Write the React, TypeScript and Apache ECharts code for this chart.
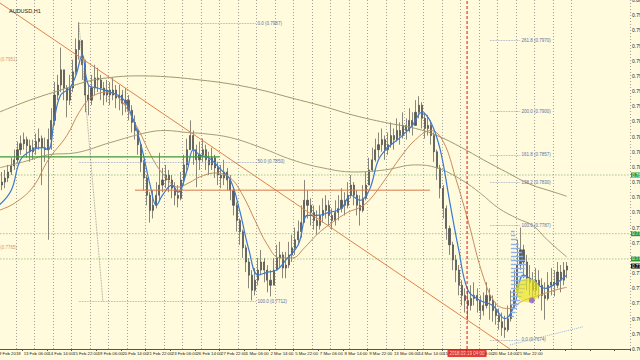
import React, { useEffect, useRef } from "react";
import * as echarts from "echarts";

// ---------- data (prices, AUDUSD H1 shown as 4-hour slots) ----------
const TIME_LABELS = [
  "9 Feb 2018", "13 Feb 06:00", "14 Feb 14:00", "15 Feb 22:00", "19 Feb 06:00", "20 Feb 14:00",
  "21 Feb 22:00", "23 Feb 06:00", "26 Feb 14:00", "27 Feb 22:00", "1 Mar 06:00", "2 Mar 14:00",
  "5 Mar 22:00", "7 Mar 06:00", "8 Mar 14:00", "9 Mar 22:00", "13 Mar 06:00", "14 Mar 14:00",
  "15 Mar 22:00", "19 Mar 06:00", "20 Mar 14:00", "21 Mar 22:00", "23 Mar 06:00",
];

const FIRST_OPEN = 0.7822;
const CLOSE = [
  0.7827, 0.7830, 0.7834, 0.7840, 0.7846, 0.7852, 0.7862, 0.7868, 0.7872, 0.7866,
  0.7860, 0.7864, 0.7870, 0.7873, 0.7864, 0.7862, 0.7872, 0.7891, 0.7916, 0.7926,
  0.7941, 0.7923, 0.7911, 0.7923, 0.7939, 0.7961, 0.7970, 0.7946, 0.7916, 0.7911,
  0.7923, 0.7933, 0.7931, 0.7923, 0.7916, 0.7921, 0.7916, 0.7921, 0.7913, 0.7916,
  0.7908, 0.7911, 0.7901, 0.7889, 0.7881, 0.7867, 0.7850, 0.7834, 0.7817, 0.7802,
  0.7807, 0.7817, 0.7827, 0.7832, 0.7837, 0.7832, 0.7824, 0.7817, 0.7814, 0.7832,
  0.7847, 0.7862, 0.7876, 0.7862, 0.7852, 0.7857, 0.7862, 0.7852, 0.7847, 0.7854,
  0.7844, 0.7837, 0.7834, 0.7840, 0.7832, 0.7822, 0.7807, 0.7792, 0.7781, 0.7765,
  0.7751, 0.7738, 0.7723, 0.7733, 0.7743, 0.7751, 0.7743, 0.7733, 0.7728, 0.7743,
  0.7755, 0.7758, 0.7745, 0.7748, 0.7758, 0.7765, 0.7773, 0.7781, 0.7790, 0.7812,
  0.7807, 0.7800, 0.7792, 0.7787, 0.7797, 0.7802, 0.7807, 0.7797, 0.7792, 0.7800,
  0.7804, 0.7812, 0.7807, 0.7817, 0.7827, 0.7817, 0.7807, 0.7802, 0.7814, 0.7827,
  0.7842, 0.7852, 0.7862, 0.7867, 0.7872, 0.7862, 0.7867, 0.7876, 0.7872, 0.7881,
  0.7876, 0.7886, 0.7881, 0.7891, 0.7886, 0.7899, 0.7906, 0.7893, 0.7883, 0.7886,
  0.7876, 0.7860, 0.7844, 0.7824, 0.7804, 0.7784, 0.7768, 0.7753, 0.7743, 0.7728,
  0.7718, 0.7713, 0.7708, 0.7715, 0.7718, 0.7713, 0.7703, 0.7708, 0.7718, 0.7713,
  0.7703, 0.7698, 0.7692, 0.7686, 0.7684, 0.7695, 0.7708, 0.7723, 0.7748, 0.7763,
  0.7751, 0.7735, 0.7731, 0.7723, 0.7733, 0.7728, 0.7718, 0.7715, 0.7728, 0.7731,
  0.7728, 0.7741, 0.7733, 0.7743, 0.7747,
];
const HIGH = [
  0.7837, 0.7840, 0.7842, 0.7847, 0.7854, 0.7862, 0.7870, 0.7876, 0.7879, 0.7875,
  0.7872, 0.7872, 0.7878, 0.7883, 0.7876, 0.7874, 0.7883, 0.7903, 0.7929, 0.7936,
  0.7963, 0.7941, 0.7926, 0.7936, 0.7951, 0.7972, 0.7988, 0.7968, 0.7951, 0.7926,
  0.7936, 0.7946, 0.7943, 0.7936, 0.7929, 0.7931, 0.7929, 0.7933, 0.7926, 0.7926,
  0.7921, 0.7923, 0.7916, 0.7906, 0.7896, 0.7883, 0.7867, 0.7852, 0.7837, 0.7820,
  0.7822, 0.7830, 0.7859, 0.7844, 0.7847, 0.7842, 0.7837, 0.7830, 0.7827, 0.7840,
  0.7857, 0.7873, 0.7891, 0.7881, 0.7867, 0.7870, 0.7873, 0.7867, 0.7860, 0.7864,
  0.7857, 0.7850, 0.7847, 0.7852, 0.7844, 0.7837, 0.7824, 0.7810, 0.7794, 0.7783,
  0.7768, 0.7755, 0.7743, 0.7745, 0.7755, 0.7763, 0.7755, 0.7748, 0.7743, 0.7755,
  0.7768, 0.7771, 0.7761, 0.7761, 0.7771, 0.7778, 0.7785, 0.7792, 0.7807, 0.7832,
  0.7822, 0.7814, 0.7807, 0.7802, 0.7807, 0.7814, 0.7817, 0.7812, 0.7804, 0.7812,
  0.7817, 0.7824, 0.7820, 0.7830, 0.7837, 0.7830, 0.7822, 0.7817, 0.7827, 0.7840,
  0.7854, 0.7864, 0.7873, 0.7879, 0.7883, 0.7876, 0.7879, 0.7889, 0.7883, 0.7893,
  0.7889, 0.7899, 0.7893, 0.7903, 0.7899, 0.7911, 0.7915, 0.7909, 0.7899, 0.7896,
  0.7891, 0.7879, 0.7862, 0.7847, 0.7827, 0.7807, 0.7787, 0.7771, 0.7758, 0.7748,
  0.7733, 0.7725, 0.7723, 0.7728, 0.7731, 0.7725, 0.7718, 0.7721, 0.7731, 0.7725,
  0.7718, 0.7711, 0.7705, 0.7701, 0.7698, 0.7708, 0.7723, 0.7743, 0.7773, 0.7785,
  0.7768, 0.7758, 0.7748, 0.7741, 0.7745, 0.7743, 0.7735, 0.7731, 0.7741, 0.7745,
  0.7743, 0.7751, 0.7748, 0.7751, 0.7751,
];
const LOW = [
  0.7820, 0.7822, 0.7824, 0.7830, 0.7837, 0.7842, 0.7849, 0.7857, 0.7862, 0.7854,
  0.7850, 0.7852, 0.7857, 0.7862, 0.7827, 0.7850, 0.7773, 0.7862, 0.7886, 0.7911,
  0.7919, 0.7911, 0.7894, 0.7906, 0.7919, 0.7936, 0.7951, 0.7931, 0.7899, 0.7896,
  0.7906, 0.7916, 0.7919, 0.7911, 0.7906, 0.7909, 0.7906, 0.7911, 0.7903, 0.7901,
  0.7896, 0.7899, 0.7891, 0.7879, 0.7872, 0.7857, 0.7840, 0.7822, 0.7807, 0.7790,
  0.7794, 0.7804, 0.7812, 0.7820, 0.7824, 0.7820, 0.7814, 0.7807, 0.7805, 0.7812,
  0.7827, 0.7842, 0.7862, 0.7847, 0.7825, 0.7842, 0.7850, 0.7842, 0.7837, 0.7842,
  0.7834, 0.7827, 0.7824, 0.7827, 0.7822, 0.7812, 0.7797, 0.7781, 0.7768, 0.7755,
  0.7741, 0.7725, 0.7713, 0.7718, 0.7728, 0.7738, 0.7731, 0.7721, 0.7717, 0.7728,
  0.7743, 0.7745, 0.7735, 0.7735, 0.7745, 0.7751, 0.7758, 0.7768, 0.7775, 0.7792,
  0.7794, 0.7787, 0.7783, 0.7778, 0.7783, 0.7790, 0.7794, 0.7787, 0.7783, 0.7787,
  0.7792, 0.7800, 0.7797, 0.7804, 0.7814, 0.7807, 0.7797, 0.7787, 0.7800, 0.7812,
  0.7827, 0.7840, 0.7850, 0.7854, 0.7860, 0.7852, 0.7857, 0.7864, 0.7862, 0.7870,
  0.7867, 0.7873, 0.7872, 0.7879, 0.7876, 0.7886, 0.7893, 0.7883, 0.7873, 0.7876,
  0.7867, 0.7850, 0.7832, 0.7814, 0.7794, 0.7773, 0.7758, 0.7743, 0.7731, 0.7718,
  0.7708, 0.7701, 0.7694, 0.7703, 0.7708, 0.7701, 0.7694, 0.7698, 0.7705, 0.7694,
  0.7692, 0.7689, 0.7684, 0.7678, 0.7676, 0.7682, 0.7692, 0.7705, 0.7723, 0.7743,
  0.7735, 0.7723, 0.7718, 0.7711, 0.7718, 0.7715, 0.7703, 0.7694, 0.7713, 0.7718,
  0.7717, 0.7725, 0.7721, 0.7728, 0.7735,
];

// moving averages (slot index -> price), read at key points
const BLUE_IDX = [0, 4, 7, 11, 14, 16, 18, 20, 23, 25, 27, 29, 32, 36, 40, 43, 46, 49, 51, 53, 56, 58, 61, 63, 65, 68, 72, 75, 78, 81, 84, 87, 90, 93, 97, 100, 103, 107, 111, 114, 117, 120, 123, 126, 130, 134, 137, 140, 143, 146, 149, 152, 156, 160, 164, 167, 170, 173, 177, 181, 184];
const BLUE_VAL = [0.7807, 0.7822, 0.7852, 0.7862, 0.7864, 0.7862, 0.7893, 0.7916, 0.7923, 0.7936, 0.7956, 0.7926, 0.7923, 0.7919, 0.7913, 0.7896, 0.7867, 0.7827, 0.7807, 0.7817, 0.7827, 0.7820, 0.7842, 0.7862, 0.7857, 0.7854, 0.7842, 0.7832, 0.7802, 0.7763, 0.7738, 0.7741, 0.7743, 0.7753, 0.7768, 0.7797, 0.7797, 0.7800, 0.7804, 0.7817, 0.7812, 0.7822, 0.7852, 0.7864, 0.7874, 0.7886, 0.7899, 0.7889, 0.7862, 0.7812, 0.7763, 0.7723, 0.7713, 0.7708, 0.7695, 0.7708, 0.7738, 0.7733, 0.7725, 0.7731, 0.7738];

const BROWN_IDX = [0, 5, 11, 16, 22, 26, 30, 35, 39, 45, 50, 54, 58, 62, 65, 70, 75, 79, 83, 87, 91, 95, 99, 103, 108, 113, 117, 120, 125, 130, 135, 140, 144, 148, 152, 157, 161, 165, 170, 175, 180, 184];
const BROWN_VAL = [0.7802, 0.7809, 0.7825, 0.7852, 0.7876, 0.7899, 0.7914, 0.7919, 0.7913, 0.7883, 0.7852, 0.7835, 0.7825, 0.7830, 0.7835, 0.7839, 0.7834, 0.7817, 0.7792, 0.7768, 0.7755, 0.7755, 0.7765, 0.7778, 0.7790, 0.7800, 0.7805, 0.7812, 0.7832, 0.7854, 0.7872, 0.7881, 0.7870, 0.7834, 0.7792, 0.7736, 0.7710, 0.7705, 0.7713, 0.7718, 0.7723, 0.7726];

const SLOW_A_IDX = [0, 10, 20, 28, 35, 45, 55, 65, 75, 85, 95, 105, 115, 125, 135, 142, 150, 157, 165, 172, 180, 184];
const SLOW_A_VAL = [0.7899, 0.7911, 0.7921, 0.7929, 0.7933, 0.7935, 0.7934, 0.7931, 0.7927, 0.7921, 0.7913, 0.7905, 0.7896, 0.7889, 0.7883, 0.7876, 0.7864, 0.7852, 0.7839, 0.7828, 0.7820, 0.7816];

const SLOW_B_IDX = [0, 8, 16, 25, 36, 48, 54, 61, 66, 75, 85, 95, 105, 115, 125, 135, 142, 150, 156, 162, 168, 173, 178, 184];
const SLOW_B_VAL = [0.7844, 0.7850, 0.7857, 0.7859, 0.7869, 0.7879, 0.7881, 0.7879, 0.7878, 0.7874, 0.7864, 0.7852, 0.7844, 0.7840, 0.7842, 0.7847, 0.7844, 0.7832, 0.7819, 0.7804, 0.7794, 0.7787, 0.7772, 0.7756];

// drawn objects (slot position, price)
const TREND_X = [0.84, 166.1];
const TREND_Y = [0.8007, 0.7665];
const HLINE_X = [44.6, 140.2];
const HLINE_PRICE = 0.7822;
const GREEN_X = [0, 72];
const GREEN_PRICE = 0.7855;
const GREEN_DOTTED = [0.7837, 0.7779, 0.7754];
const LAST_PRICE = 0.7747;

const FIB1_LEVELS = ["0.0", "50.0", "100.0"];
const FIB1_PRICES = [0.7987, 0.785, 0.7712];
const FIB1_X = [26.4, 84];
const FIB1_DIAG_X = [26.4, 34.2];
const FIB1_DIAG_Y = [0.7987, 0.7712];

const FIB2_LEVELS = ["261.8", "200.0", "161.8", "138.2", "100.0", "0.0"];
const FIB2_PRICES = [0.797, 0.79, 0.7857, 0.783, 0.7787, 0.7674];
const FIB2_X = [159.6, 169.5];

const BLUE_TREND_X = [166.1, 189.8];
const BLUE_TREND_Y = [0.7669, 0.7687];

const RED_X = 152.2;
const RED_LABEL = "2018.03.19 04:00";

const HIST_START = 166.4;
const HIST_PRICES = [0.7781, 0.7777, 0.7773, 0.7769, 0.7765, 0.7761, 0.7757, 0.7753, 0.7749, 0.7745, 0.7741, 0.7737, 0.7733, 0.7729, 0.7725, 0.7721, 0.7717, 0.7713, 0.7709, 0.7705, 0.7701, 0.7697];
const HIST_LEN = [1.2, 1.5, 2, 2.5, 3, 3.5, 4, 4.5, 5, 4.5, 4, 5, 5.5, 5, 4.5, 4, 3.5, 3, 2.5, 2, 1.5, 1];

const CIRCLE_PT = [171.9, 0.7723];
const PURPLE_PT = [173.2, 0.7713];

const LEFT_NOTES = ["(0.7951)", "(0.7765)"];
const LEFT_NOTE_PRICES = [0.7951, 0.7765];

const N_SLOTS = 205;
const Y_MIN = 0.7665;
const Y_MAX = 0.801;
const BG = "#fffbdc";

export default function App() {
  const ref = useRef<HTMLDivElement>(null);

  useEffect(() => {
    if (!ref.current) return;
    const chart = echarts.init(ref.current, null, { renderer: "svg" });
    const cats = Array.from({ length: N_SLOTS }, (_, i) => String(i));
    const candles = CLOSE.map((c, i) => {
      const o = i === 0 ? FIRST_OPEN : CLOSE[i - 1];
      return [o, c, Math.min(LOW[i], o, c), Math.max(HIGH[i], o, c)];
    });
    const pts = (idx: number[], val: number[]) => idx.map((i, k) => [i + 0.5, val[k]]);
    const small = { fontSize: 4.5, fontFamily: "Liberation Sans" };

    const seg = (name: string, data: number[][], lineStyle: any, z = 5, extra: any = {}) => ({
      name,
      type: "line",
      xAxisIndex: 1,
      yAxisIndex: 0,
      data,
      symbol: "none",
      lineStyle,
      z,
      silent: true,
      ...extra,
    });

    const maLine = (name: string, idx: number[], val: number[], color: string, width: number) =>
      seg(name, pts(idx, val), { color, width }, 4, { smooth: 0.4 });

    const fibSeries = (name: string, levels: string[], prices: number[], xr: number[]) => ({
      name,
      type: "line",
      xAxisIndex: 1,
      data: [],
      z: 5,
      markLine: {
        silent: true,
        symbol: "none",
        lineStyle: { color: "#8a9cc4", type: "dotted", width: 0.8 },
        label: { show: true, position: "end", distance: 1, formatter: "{b}", color: "#5c72a8", ...small },
        data: levels.map((lv, k) => [
          { name: `${lv} (${prices[k].toFixed(4)})`, coord: [xr[0], prices[k]] },
          { coord: [xr[1], prices[k]] },
        ]),
      },
    });

    const priceTag = (text: string, bg: string) => ({
      show: true, distance: 1, formatter: text, backgroundColor: bg, color: "#fff",
      padding: [0, 1], lineHeight: 5, ...small,
    });

    const option: any = {
      animation: false,
      backgroundColor: BG,
      textStyle: { fontFamily: "Liberation Sans" },
      title: {
        text: "AUDUSD,H1",
        left: 4,
        top: 3,
        textStyle: { fontSize: 5.5, fontWeight: "normal", color: "#222", fontFamily: "Liberation Sans" },
      },
      grid: { left: -2.6, right: 10, top: 0, bottom: 11, containLabel: false, outerBoundsMode: "none" },
      xAxis: [
        {
          type: "category",
          data: cats,
          boundaryGap: true,
          axisLine: { show: true, lineStyle: { color: "#555", width: 1 } },
          axisTick: { show: true, length: 2, interval: (i: number) => i % 8 === 0, lineStyle: { color: "#555" } },
          axisLabel: {
            show: true,
            interval: (i: number) => i % 8 === 0 && i / 8 < TIME_LABELS.length,
            formatter: (_v: string, i: number) => TIME_LABELS[Math.round(i / 8)] || "",
            align: "left",
            margin: 2,
            color: "#222",
            fontSize: 4.3,
          },
          splitLine: {
            show: true,
            interval: (i: number) => i % 6 === 0 && i <= 186,
            lineStyle: { color: "#8c8c8c", type: [1, 2], width: 0.8 },
          },
        },
        { type: "value", min: 0, max: N_SLOTS, show: false },
      ],
      yAxis: {
        type: "value",
        position: "right",
        min: Y_MIN,
        max: Y_MAX,
        interval: 0.0015,
        axisLine: { show: true, lineStyle: { color: "#555", width: 1 } },
        axisTick: { show: true, length: 2, lineStyle: { color: "#555" } },
        axisLabel: { margin: 2, color: "#222", fontSize: 5, formatter: (v: number) => v.toFixed(5) },
        splitLine: { show: false },
      },
      series: [
        {
          name: "price",
          type: "candlestick",
          xAxisIndex: 0,
          data: candles,
          barWidth: 1.6,
          itemStyle: { color: "#5a5a5a", color0: "#5a5a5a", borderColor: "#3a3a3a", borderColor0: "#3a3a3a", borderWidth: 0.6 },
          z: 3,
          silent: true,
        },
        maLine("slowA", SLOW_A_IDX, SLOW_A_VAL, "#9c9a70", 1),
        maLine("slowB", SLOW_B_IDX, SLOW_B_VAL, "#a29f78", 1),
        maLine("medium", BROWN_IDX, BROWN_VAL, "#c98a5e", 1),
        maLine("fast", BLUE_IDX, BLUE_VAL, "#3a78d4", 1.2),
        seg("trend", TREND_X.map((x, k) => [x, TREND_Y[k]]), { color: "#e0824a", width: 1 }),
        seg("hline", HLINE_X.map((x) => [x, HLINE_PRICE]), { color: "#d9784a", width: 1 }),
        seg("green", GREEN_X.map((x) => [x, GREEN_PRICE]), { color: "#3c9a3c", width: 1.2 }),
        seg("fib1diag", FIB1_DIAG_X.map((x, k) => [x, FIB1_DIAG_Y[k]]), { color: "#8a8a8a", width: 0.8, type: "dotted" }),
        seg("blueTrend", BLUE_TREND_X.map((x, k) => [x, BLUE_TREND_Y[k]]), { color: "#9db4e0", width: 1, type: "dotted" }),
        fibSeries("fib1", FIB1_LEVELS, FIB1_PRICES, FIB1_X),
        fibSeries("fib2", FIB2_LEVELS, FIB2_PRICES, FIB2_X),
        {
          name: "hist",
          type: "line",
          xAxisIndex: 1,
          data: [],
          z: 4,
          markLine: {
            silent: true,
            symbol: "none",
            label: { show: false },
            lineStyle: { color: "#8fb0e8", width: 1.4, type: "solid" },
            data: HIST_PRICES.map((p, k) => [{ coord: [HIST_START, p] }, { coord: [HIST_START + HIST_LEN[k], p] }]),
          },
        },
        {
          name: "marks",
          type: "scatter",
          xAxisIndex: 1,
          data: [
            { value: CIRCLE_PT, symbolSize: 24, itemStyle: { color: "rgba(232,226,20,0.85)" } },
            { value: PURPLE_PT, symbolSize: 6, itemStyle: { color: "#8a66c8" } },
          ],
          z: 6,
          silent: true,
        },
        {
          name: "notes",
          type: "scatter",
          xAxisIndex: 1,
          symbolSize: 0,
          data: LEFT_NOTE_PRICES.map((p, k) => ({ value: [0.9, p], name: LEFT_NOTES[k] })),
          label: { show: true, position: "right", distance: 0, formatter: "{b}", color: "#c8784a", ...small },
          z: 6,
          silent: true,
        },
        // price levels with tags on the price scale
        ...GREEN_DOTTED.map((p, k) =>
          seg(`level${k}`, [[0, p], [N_SLOTS, p]], { color: "#4aa04a", type: [1, 2], width: 0.8 }, 7, {
            endLabel: priceTag(p.toFixed(5), "#2e9a2e"),
          })
        ),
        seg("last", [[N_SLOTS - 0.01, LAST_PRICE], [N_SLOTS, LAST_PRICE]], { opacity: 0 }, 8, {
          endLabel: priceTag(LAST_PRICE.toFixed(5), "#111"),
        }),
        // vertical red marker line with time tag under the time scale
        seg("redLine", [[RED_X, Y_MIN], [RED_X, Y_MAX]], { color: "#e01010", type: [3, 2], width: 1 }, 7),
        {
          name: "redTag",
          type: "scatter",
          xAxisIndex: 1,
          symbolSize: 0,
          data: [{ value: [RED_X, Y_MIN], name: RED_LABEL }],
          label: {
            show: true, position: "bottom", distance: 1, formatter: "{b}",
            backgroundColor: "#e01010", color: "#fff", padding: [1, 2], ...small,
          },
          z: 9,
          silent: true,
        },
      ],
    };
    chart.setOption(option);
    return () => chart.dispose();
  }, []);

  return (
    <div
      ref={ref}
      style={{ position: "fixed", left: 0, top: 0, width: 640, height: 360, background: BG }}
    />
  );
}
